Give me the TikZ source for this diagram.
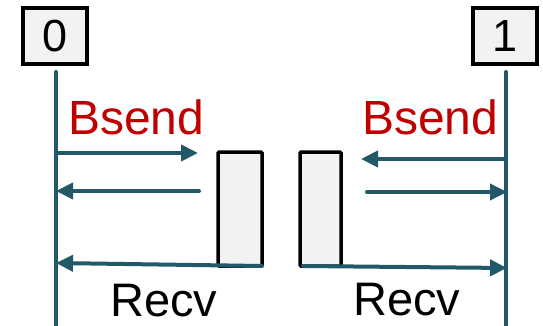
\documentclass[tikz,border=0pt]{standalone}
\usepackage{fontspec}
\setmainfont{Liberation Sans}
\usetikzlibrary{arrows.meta}
\definecolor{lifeteal}{RGB}{34,89,104}
\definecolor{boxgray}{RGB}{242,242,242}
\definecolor{callred}{RGB}{192,0,0}
\begin{document}
\begin{tikzpicture}[x=1pt,y=-1pt,
  procbox/.style={draw=black,line width=3.5pt,fill=boxgray,minimum width=64pt,minimum height=56pt,inner sep=0pt,font=\fontsize{45}{50}\selectfont},
  actbox/.style={draw=black,line width=3.5pt,fill=boxgray,inner sep=0pt,rounded corners=1pt},
  lifeline/.style={draw=lifeteal,line width=4pt,line cap=round},
  msg/.style={draw=lifeteal,line width=4pt,line cap=round,-{Triangle[length=17pt,width=16pt]}},
  calltext/.style={anchor=base west,inner sep=0pt,text=callred,font=\fontsize{48}{52}\selectfont},
  optext/.style={anchor=base west,inner sep=0pt,font=\fontsize{47}{50}\selectfont}]
\useasboundingbox (0,0) rectangle (543,326);

% process headers
\node[procbox] (p0) at (55,36) {0};
\node[procbox] (p1) at (505,36) {1};

% lifelines
\coordinate (l0top) at (56,72);
\coordinate (l0bot) at (56,330);
\coordinate (l1top) at (506,72);
\coordinate (l1bot) at (506,330);
\draw[lifeline] (l0top) -- (l0bot);
\draw[lifeline] (l1top) -- (l1bot);

% activation boxes
\draw[actbox] (218,152) rectangle (262,266);
\draw[actbox] (300,152) rectangle (341,266);

% message end points
\coordinate (a1s) at (56,153);  \coordinate (a1e) at (198,153);
\coordinate (a2s) at (199,191); \coordinate (a2e) at (56,191);
\coordinate (a3s) at (262,266); \coordinate (a3e) at (56,263);
\coordinate (b1s) at (506,159); \coordinate (b1e) at (361,159);
\coordinate (b2s) at (367,192); \coordinate (b2e) at (507,192);
\coordinate (b3s) at (303,266); \coordinate (b3e) at (507,268);

\draw[msg] (a1s) -- (a1e);
\draw[msg] (a2s) -- (a2e);
\draw[msg] (a3s) -- (a3e);
\draw[msg] (b1s) -- (b1e);
\draw[msg] (b2s) -- (b2e);
\draw[msg] (b3s) -- (b3e);

% labels
\node[calltext] (bs0) at (68,135) {Bsend};
\node[calltext] (bs1) at (362,135) {Bsend};
\node[optext] (rv0) at (110,316) {Recv};
\node[optext] (rv1) at (353,315) {Recv};
\end{tikzpicture}
\end{document}
